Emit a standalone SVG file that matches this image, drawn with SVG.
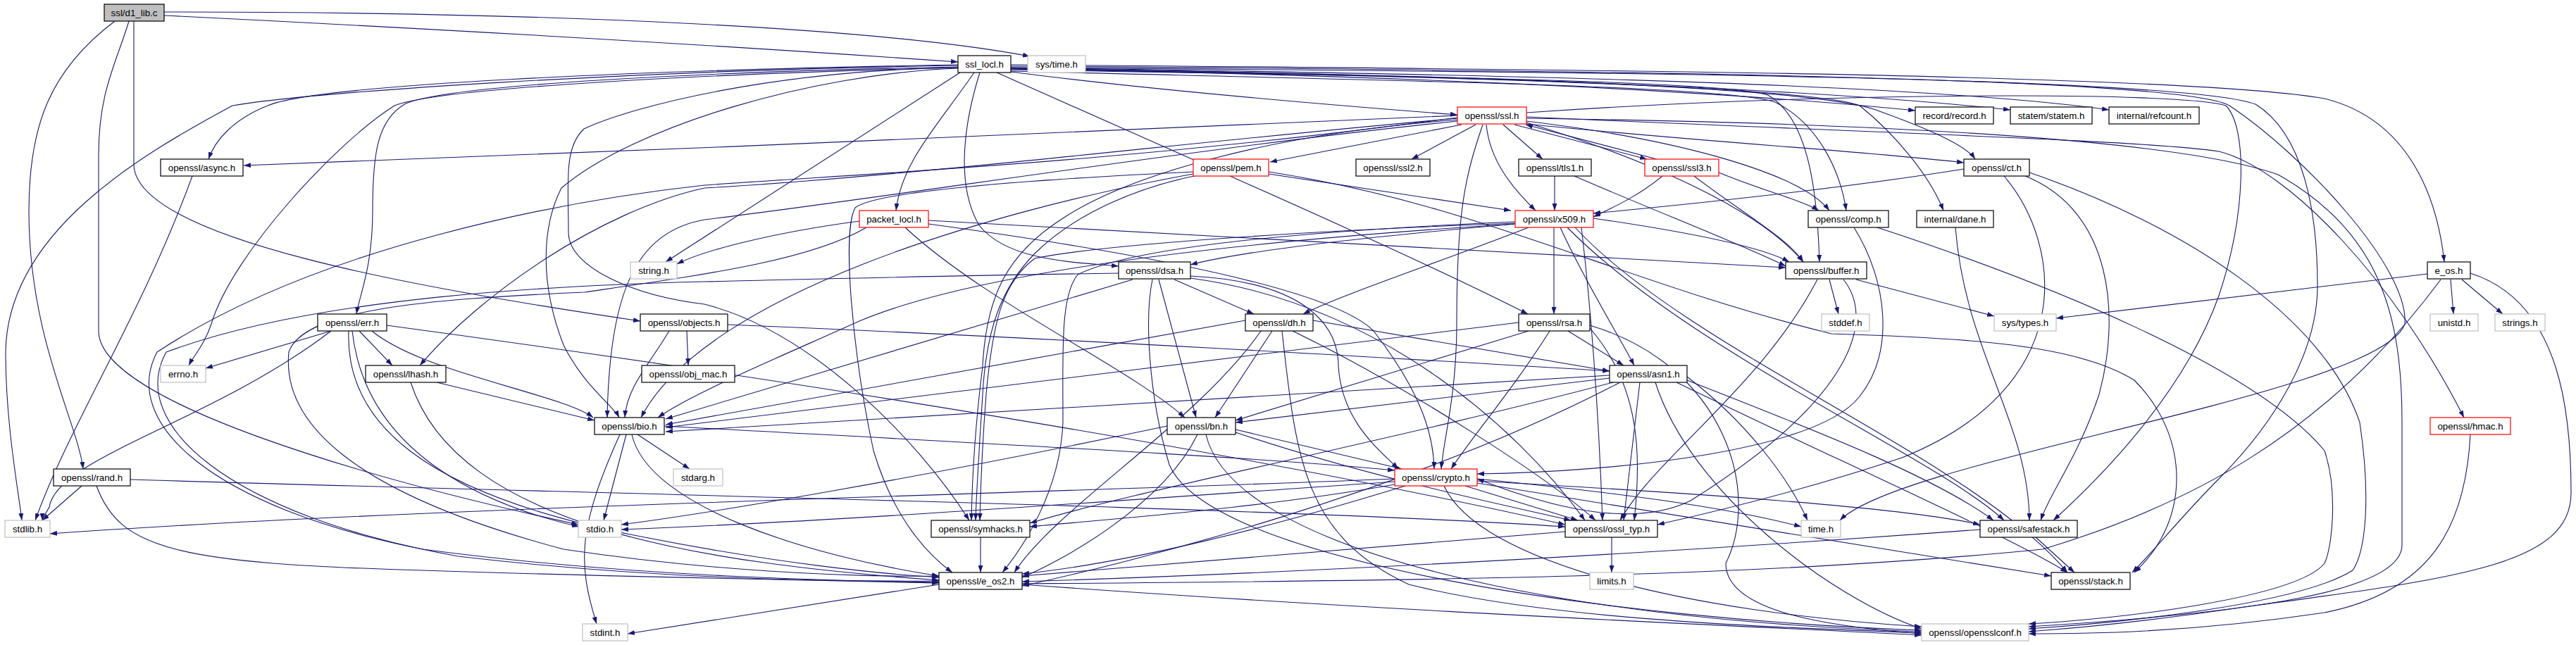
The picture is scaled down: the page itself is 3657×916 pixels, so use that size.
<svg xmlns="http://www.w3.org/2000/svg" width="3657" height="916" viewBox="0 0 3657 916">
<defs>
<marker id="ah" viewBox="0 0 10 7" refX="10" refY="3.5" markerWidth="10" markerHeight="7" markerUnits="userSpaceOnUse" orient="auto"><path d="M0,0 L10,3.5 L0,7 z" fill="#191970"/></marker>
<style>
.e path{fill:none;stroke:#191970;stroke-width:1.1;marker-end:url(#ah)}
rect{fill:#fff;stroke-width:1.2}
.n rect{stroke:#000}
.g rect{stroke:#bfbfbf}
.r rect{stroke:#ff0000}
text{font-family:"Liberation Sans",Arial,Helvetica,sans-serif;font-size:13.3px;text-anchor:middle;fill:#000}
</style>
</defs>
<rect x="0" y="0" width="3657" height="916" style="fill:#fff;stroke:none"/>
<g class="e" id="edges">
<path d="M233,22 C700,45 1100,70 1360,88"/>
<path d="M233,17 C800,17 1250,40 1462,80"/>
<path d="M163,30 C70,100 41,180 41,300 C41,480 110,600 118,666"/>
<path d="M183,30 C165,90 140,130 140,220 L140,470 C140,570 520,680 821,745"/>
<path d="M190,30 L190,233 C190,340 600,410 909,456"/>
<path d="M1435,92 C2200,98 3100,105 3300,140 C3420,170 3460,280 3470,372"/>
<path d="M1360,93 C900,100 450,130 330,150 C200,220 10,330 8,500 C8,600 25,690 31,739"/>
<path d="M1435,94 C2300,100 3100,110 3165,150 C3270,220 3420,380 3414,460 C3380,560 2700,650 2612,739"/>
<path d="M1363,103 L945,372"/>
<path d="M1360,96 C1000,105 620,125 560,150 C480,200 330,360 300,460 C290,490 275,505 268,519"/>
<path d="M1435,99 C2000,108 2450,115 2510,135 C2570,170 2580,280 2583,372"/>
<path d="M1435,101 C2000,115 2450,122 2520,145 C2580,175 2612,240 2621,299"/>
<path d="M1360,97 C1150,105 900,180 797,267 C770,320 765,400 800,490 C830,550 870,575 879,593"/>
<path d="M1435,96 C2300,102 3100,110 3202,148 C3270,190 3290,300 3290,406 C3290,500 3230,600 3150,680 C3100,730 3060,780 3027,813"/>
<path d="M1415,103 C1700,230 2000,360 2169,446"/>
<path d="M1391,103 C1370,170 1355,260 1390,320 C1430,370 1520,372 1588,378"/>
<path d="M1360,95 C1000,102 640,120 576,147 C535,170 529,220 529,300 C529,380 510,420 506,446"/>
<path d="M1435,102 C1650,130 1900,150 2069,163"/>
<path d="M1360,92 C900,100 450,120 380,150 C330,170 305,200 296,226"/>
<path d="M1360,96 C1100,100 900,150 829,183 C800,210 807,260 807,330 C807,380 900,420 1000,432 C1150,470 1300,620 1376,739"/>
<path d="M1435,97 C2000,105 2550,120 2660,155 C2730,180 2790,205 2804,226"/>
<path d="M1435,98 C1900,105 2400,125 2719,157"/>
<path d="M1435,97 C1900,104 2500,118 2854,156"/>
<path d="M1383,103 C1330,180 1280,230 1272,299"/>
<path d="M1435,98 C2100,108 2580,125 2640,150 C2690,190 2740,250 2759,299"/>
<path d="M1435,96 C2000,104 2700,115 2994,156"/>
<path d="M2069,167 C1600,230 1250,245 1000,263 C800,285 450,350 223,500 C170,600 300,720 600,780 C900,820 1200,825 1333,827"/>
<path d="M2167,168 C2700,175 3100,200 3234,248 C3380,330 3410,450 3410,600 L3410,774 C3410,840 3200,870 2880,890"/>
<path d="M2167,172 C2400,200 2560,250 2597,299"/>
<path d="M2069,172 C1700,210 1300,275 1000,312 C900,330 865,420 862,593"/>
<path d="M2110,177 C2115,230 2150,270 2180,299"/>
<path d="M2105,177 C2080,250 2068,300 2068,460 C2068,560 2050,620 2046,666"/>
<path d="M2069,168 C1700,200 1300,250 1000,267 C850,300 680,420 596,519"/>
<path d="M2167,174 C2350,230 2500,300 2560,372"/>
<path d="M2075,177 L1803,230"/>
<path d="M2167,166 C2700,190 3050,200 3150,215 C3250,240 3400,400 3498,593"/>
<path d="M2069,164 C1600,185 900,215 346,235"/>
<path d="M2167,160 C2600,130 3100,130 3160,150 C3190,180 3190,300 3150,420 C3100,560 2980,680 2915,739"/>
<path d="M2071,170 C1800,190 1600,250 1509,310 C1430,360 1400,420 1395,520 C1385,600 1380,680 1379,739"/>
<path d="M2167,176 C2400,200 2650,215 2788,231"/>
<path d="M2095,177 L2004,226"/>
<path d="M2150,177 L2338,226"/>
<path d="M2134,177 L2190,226"/>
<path d="M2352,226 L2166,177"/>
<path d="M2440,245 C2500,270 2560,285 2582,299"/>
<path d="M2405,250 C2470,300 2540,340 2560,372"/>
<path d="M2360,250 C2330,275 2300,290 2262,308"/>
<path d="M2207,250 L2207,299"/>
<path d="M2235,250 C2350,300 2480,350 2535,378"/>
<path d="M1694,244 C1400,258 1240,275 1214,295 C1195,330 1210,500 1240,640 C1270,740 1320,790 1352,813"/>
<path d="M1694,247 C1400,300 1000,420 910,593"/>
<path d="M1801,244 C2100,290 2300,400 2600,474 C2800,480 2950,490 3030,540 C3110,620 3110,740 3030,813"/>
<path d="M1801,247 L2145,299"/>
<path d="M1700,249 C1620,265 1530,300 1469,360 C1420,410 1400,470 1395,560 C1390,640 1386,700 1385,739"/>
<path d="M1220,314 C1100,330 1000,355 961,375"/>
<path d="M1285,323 C1400,430 1600,520 1682,593"/>
<path d="M1318,313 L2535,380"/>
<path d="M1318,318 C1700,370 1900,420 1950,470 C2020,560 2035,620 2036,666"/>
<path d="M1230,323 C1150,370 1000,390 830,415 C600,425 430,440 410,500 C400,600 500,700 800,780 C1000,810 1200,820 1333,818"/>
<path d="M2151,315 C1800,330 1600,355 1530,390 C1505,420 1509,500 1509,600 C1505,700 1450,780 1423,813"/>
<path d="M2245,323 C2260,450 2270,600 2275,739"/>
<path d="M2151,317 C1800,330 1550,350 1469,367 C1425,400 1410,450 1400,560 C1393,650 1392,700 1391,739"/>
<path d="M2262,310 C2400,330 2500,350 2540,372"/>
<path d="M2151,318 C1800,340 1400,380 1220,456 C1100,510 980,560 934,593"/>
<path d="M2236,323 C2400,500 2800,650 2935,813"/>
<path d="M2225,323 C2400,500 2750,650 2845,739"/>
<path d="M2215,323 C2250,400 2300,480 2320,519"/>
<path d="M2206,323 L2206,446"/>
<path d="M2151,318 C1900,340 1750,360 1690,376"/>
<path d="M2170,323 C2050,370 1900,420 1850,446"/>
<path d="M2788,240 C2600,270 2400,290 2262,303"/>
<path d="M2845,250 C2930,350 2950,550 2700,650 C2550,700 2420,730 2353,745"/>
<path d="M2875,250 C3000,300 3010,450 2980,560 C2950,650 2910,700 2897,739"/>
<path d="M2881,245 C3100,320 3300,450 3350,600 C3365,700 3360,780 3340,810 C3260,860 3000,885 2880,893"/>
<path d="M2632,323 C2680,400 2690,500 2640,563 C2580,640 2300,670 2097,673"/>
<path d="M2665,323 C2900,400 3200,520 3300,640 C3320,700 3310,780 3300,800 C3260,850 3000,880 2880,886"/>
<path d="M2776,323 C2790,500 2880,600 2881,739"/>
<path d="M2580,397 C2500,550 2350,650 2300,739"/>
<path d="M2597,397 L2610,446"/>
<path d="M2617,397 C2660,450 2640,560 2400,711 C2300,760 2150,700 2097,680"/>
<path d="M2635,397 L2831,449"/>
<path d="M3446,389 L2919,452"/>
<path d="M3465,397 C3300,620 3100,720 2900,780 C2500,820 2000,825 1451,829"/>
<path d="M3479,397 L3483,446"/>
<path d="M3495,397 L3553,446"/>
<path d="M3507,388 C3640,430 3650,600 3650,700 C3650,800 3500,820 3200,860 C3000,890 2900,895 2880,897"/>
<path d="M3507,617 C3500,750 3450,840 3300,870 C3100,900 2950,900 2880,900"/>
<path d="M975,470 L977,519"/>
<path d="M950,470 C920,520 890,550 887,593"/>
<path d="M1033,461 C1500,480 2000,510 2285,527"/>
<path d="M470,470 L292,523"/>
<path d="M510,470 L557,519"/>
<path d="M528,470 C600,530 800,560 842,593"/>
<path d="M470,470 C300,600 80,650 70,720 C65,730 60,735 60,739"/>
<path d="M495,470 C490,600 600,700 900,760 C1100,800 1250,815 1333,820"/>
<path d="M500,470 C520,650 700,720 822,748"/>
<path d="M549,462 C1200,550 1800,650 2222,745"/>
<path d="M620,543 L844,597"/>
<path d="M583,543 C650,750 1000,800 1333,824"/>
<path d="M889,617 L857,739"/>
<path d="M905,617 L979,666"/>
<path d="M880,617 C820,750 820,800 847,886"/>
<path d="M897,617 C920,720 1150,790 1333,818"/>
<path d="M943,605 C1400,630 1800,650 1980,668"/>
<path d="M116,690 L60,739"/>
<path d="M185,681 C800,700 1800,720 2222,748"/>
<path d="M137,690 C170,780 250,800 600,810 C900,820 1200,825 1333,828"/>
<path d="M273,250 C200,450 100,600 50,739"/>
<path d="M1690,392 C1850,400 1900,460 1900,520 C1905,600 1960,640 1985,666"/>
<path d="M1636,397 C1625,450 1630,560 1660,660 C1720,800 2300,880 2728,895"/>
<path d="M1588,388 C1300,392 1100,398 1000,400 C800,405 450,420 236,500 C180,600 320,730 650,790 C950,825 1200,826 1333,825"/>
<path d="M1608,397 L945,595"/>
<path d="M1690,395 C1950,430 2150,600 2250,739"/>
<path d="M1645,397 L1698,593"/>
<path d="M1667,397 L1780,446"/>
<path d="M1768,455 L945,603"/>
<path d="M1790,470 C1700,600 1500,720 1440,813"/>
<path d="M1806,470 L1725,593"/>
<path d="M1820,470 C1840,650 1850,760 2000,830 C2200,880 2500,890 2728,899"/>
<path d="M1835,470 C2000,550 2200,680 2265,739"/>
<path d="M1864,455 L2285,527"/>
<path d="M2156,458 L945,607"/>
<path d="M2170,470 L1754,597"/>
<path d="M2200,470 C2150,550 2090,620 2060,666"/>
<path d="M2226,470 L2305,519"/>
<path d="M2257,462 C2450,520 2500,700 2450,800 C2450,870 2600,890 2728,900"/>
<path d="M2257,466 C2330,550 2330,650 2320,739"/>
<path d="M2285,533 L945,613"/>
<path d="M2285,537 L1754,600"/>
<path d="M2290,543 C2000,620 1600,700 1462,743"/>
<path d="M2328,543 L2305,739"/>
<path d="M2300,543 C2000,700 1600,800 1451,832"/>
<path d="M2395,535 C2480,600 2540,680 2566,739"/>
<path d="M2395,540 C2600,620 2750,680 2830,739"/>
<path d="M2380,543 C2600,650 2850,760 2935,813"/>
<path d="M2350,543 C2400,700 2600,850 2728,893"/>
<path d="M1657,605 C1300,680 1000,730 882,745"/>
<path d="M1700,617 C1650,720 1500,800 1451,820"/>
<path d="M1712,617 C1750,780 2200,880 2728,897"/>
<path d="M1754,610 L1990,666"/>
<path d="M1754,614 C1950,680 2150,720 2230,739"/>
<path d="M1980,680 C1500,700 600,720 71,758"/>
<path d="M2097,680 C2300,700 2450,720 2557,748"/>
<path d="M1995,690 C1800,750 1600,800 1451,815"/>
<path d="M1980,684 C1600,710 1200,740 882,752"/>
<path d="M2097,686 C2500,750 2800,800 2912,818"/>
<path d="M2097,683 C2400,700 2700,720 2811,745"/>
<path d="M2080,690 L2240,739"/>
<path d="M2050,690 C2100,800 2400,870 2728,890"/>
<path d="M1980,688 C1800,720 1600,735 1462,748"/>
<path d="M1392,763 L1392,813"/>
<path d="M2222,755 C1900,780 1600,805 1451,818"/>
<path d="M2288,763 L2288,813"/>
<path d="M2890,763 L2945,813"/>
<path d="M2811,752 C2300,790 1800,815 1451,826"/>
<path d="M1451,830 C2000,870 2500,890 2728,902"/>
<path d="M1333,830 L891,900"/>
</g>
<g id="n_d1_lib" class="n"><rect x="148" y="6" width="85" height="24" style="fill:#bfbfbf"/><text x="190.5" y="22.5">ssl/d1_lib.c</text></g>
<g id="n_ssl_locl" class="n"><rect x="1360" y="79" width="75" height="24"/><text x="1397.5" y="95.5">ssl_locl.h</text></g>
<g id="n_sys_time" class="g"><rect x="1459" y="79" width="82" height="24"/><text x="1500" y="95.5">sys/time.h</text></g>
<g id="n_ssl" class="r"><rect x="2069" y="152" width="98" height="24"/><text x="2118" y="168.5">openssl/ssl.h</text></g>
<g id="n_record" class="n"><rect x="2719" y="152" width="111" height="24"/><text x="2774.5" y="168.5">record/record.h</text></g>
<g id="n_statem" class="n"><rect x="2854" y="152" width="116" height="24"/><text x="2912" y="168.5">statem/statem.h</text></g>
<g id="n_refcount" class="n"><rect x="2994" y="152" width="128" height="24"/><text x="3058" y="168.5">internal/refcount.h</text></g>
<g id="n_async" class="n"><rect x="228" y="226" width="117" height="24"/><text x="286.5" y="242.5">openssl/async.h</text></g>
<g id="n_pem" class="r"><rect x="1694" y="226" width="107" height="24"/><text x="1747.5" y="242.5">openssl/pem.h</text></g>
<g id="n_ssl2" class="n"><rect x="1925" y="226" width="105" height="24"/><text x="1977.5" y="242.5">openssl/ssl2.h</text></g>
<g id="n_tls1" class="n"><rect x="2156" y="226" width="103" height="24"/><text x="2207.5" y="242.5">openssl/tls1.h</text></g>
<g id="n_ssl3" class="r"><rect x="2335" y="226" width="105" height="24"/><text x="2387.5" y="242.5">openssl/ssl3.h</text></g>
<g id="n_ct" class="n"><rect x="2788" y="226" width="93" height="24"/><text x="2834.5" y="242.5">openssl/ct.h</text></g>
<g id="n_packet_locl" class="r"><rect x="1220" y="299" width="98" height="24"/><text x="1269" y="315.5">packet_locl.h</text></g>
<g id="n_x509" class="r"><rect x="2151" y="299" width="111" height="24"/><text x="2206.5" y="315.5">openssl/x509.h</text></g>
<g id="n_comp" class="n"><rect x="2567" y="299" width="114" height="24"/><text x="2624" y="315.5">openssl/comp.h</text></g>
<g id="n_dane" class="n"><rect x="2721" y="299" width="109" height="24"/><text x="2775.5" y="315.5">internal/dane.h</text></g>
<g id="n_string" class="g"><rect x="895" y="372" width="66" height="24"/><text x="928" y="388.5">string.h</text></g>
<g id="n_dsa" class="n"><rect x="1588" y="372" width="102" height="24"/><text x="1639" y="388.5">openssl/dsa.h</text></g>
<g id="n_buffer" class="n"><rect x="2535" y="372" width="115" height="24"/><text x="2592.5" y="388.5">openssl/buffer.h</text></g>
<g id="n_e_os" class="n"><rect x="3446" y="372" width="61" height="24"/><text x="3476.5" y="388.5">e_os.h</text></g>
<g id="n_err" class="n"><rect x="451" y="446" width="98" height="24"/><text x="500" y="462.5">openssl/err.h</text></g>
<g id="n_objects" class="n"><rect x="909" y="446" width="124" height="24"/><text x="971" y="462.5">openssl/objects.h</text></g>
<g id="n_dh" class="n"><rect x="1768" y="446" width="96" height="24"/><text x="1816" y="462.5">openssl/dh.h</text></g>
<g id="n_rsa" class="n"><rect x="2156" y="446" width="101" height="24"/><text x="2206.5" y="462.5">openssl/rsa.h</text></g>
<g id="n_stddef" class="g"><rect x="2586" y="446" width="68" height="24"/><text x="2620" y="462.5">stddef.h</text></g>
<g id="n_sys_types" class="g"><rect x="2831" y="446" width="88" height="24"/><text x="2875" y="462.5">sys/types.h</text></g>
<g id="n_unistd" class="g"><rect x="3450" y="446" width="68" height="24"/><text x="3484" y="462.5">unistd.h</text></g>
<g id="n_strings" class="g"><rect x="3542" y="446" width="71" height="24"/><text x="3577.5" y="462.5">strings.h</text></g>
<g id="n_errno" class="g"><rect x="228" y="519" width="64" height="24"/><text x="260" y="535.5">errno.h</text></g>
<g id="n_lhash" class="n"><rect x="519" y="519" width="114" height="24"/><text x="576" y="535.5">openssl/lhash.h</text></g>
<g id="n_obj_mac" class="n"><rect x="911" y="519" width="132" height="24"/><text x="977" y="535.5">openssl/obj_mac.h</text></g>
<g id="n_asn1" class="n"><rect x="2285" y="519" width="110" height="24"/><text x="2340" y="535.5">openssl/asn1.h</text></g>
<g id="n_bio" class="n"><rect x="844" y="593" width="99" height="24"/><text x="893.5" y="609.5">openssl/bio.h</text></g>
<g id="n_bn" class="n"><rect x="1657" y="593" width="97" height="24"/><text x="1705.5" y="609.5">openssl/bn.h</text></g>
<g id="n_hmac" class="r"><rect x="3450" y="593" width="114" height="24"/><text x="3507" y="609.5">openssl/hmac.h</text></g>
<g id="n_rand" class="n"><rect x="76" y="666" width="109" height="24"/><text x="130.5" y="682.5">openssl/rand.h</text></g>
<g id="n_stdarg" class="g"><rect x="956" y="666" width="70" height="24"/><text x="991" y="682.5">stdarg.h</text></g>
<g id="n_crypto" class="r"><rect x="1980" y="666" width="117" height="24"/><text x="2038.5" y="682.5">openssl/crypto.h</text></g>
<g id="n_stdlib" class="g"><rect x="7" y="739" width="64" height="24"/><text x="39" y="755.5">stdlib.h</text></g>
<g id="n_stdio" class="g"><rect x="821" y="739" width="61" height="24"/><text x="851.5" y="755.5">stdio.h</text></g>
<g id="n_symhacks" class="n"><rect x="1322" y="739" width="140" height="24"/><text x="1392" y="755.5">openssl/symhacks.h</text></g>
<g id="n_ossl_typ" class="n"><rect x="2222" y="739" width="131" height="24"/><text x="2287.5" y="755.5">openssl/ossl_typ.h</text></g>
<g id="n_time" class="g"><rect x="2557" y="739" width="56" height="24"/><text x="2585" y="755.5">time.h</text></g>
<g id="n_safestack" class="n"><rect x="2811" y="739" width="138" height="24"/><text x="2880" y="755.5">openssl/safestack.h</text></g>
<g id="n_e_os2" class="n"><rect x="1333" y="813" width="118" height="24"/><text x="1392" y="829.5">openssl/e_os2.h</text></g>
<g id="n_limits" class="g"><rect x="2257" y="813" width="62" height="24"/><text x="2288" y="829.5">limits.h</text></g>
<g id="n_stack" class="n"><rect x="2912" y="813" width="112" height="24"/><text x="2968" y="829.5">openssl/stack.h</text></g>
<g id="n_stdint" class="g"><rect x="827" y="886" width="64" height="24"/><text x="859" y="902.5">stdint.h</text></g>
<g id="n_opensslconf" class="g"><rect x="2728" y="886" width="152" height="24"/><text x="2804" y="902.5">openssl/opensslconf.h</text></g>
</svg>
